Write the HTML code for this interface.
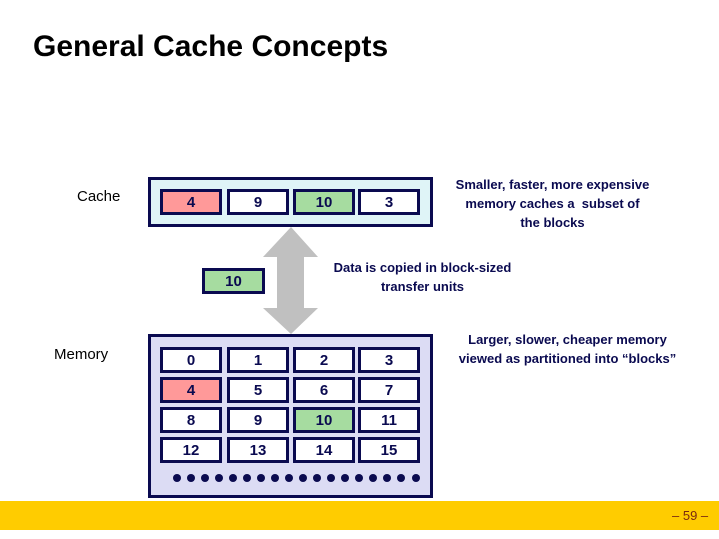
<!DOCTYPE html>
<html><head><meta charset="utf-8"><style>
body{margin:0;width:719px;height:539px;background:#fff;position:relative;overflow:hidden;font-family:"Liberation Sans",sans-serif}
.a{position:absolute}
.c{position:absolute;box-sizing:border-box;border:3px solid #0a0a50;background:#fff;color:#0a0a50;font-weight:bold;font-size:15px;display:flex;align-items:center;justify-content:center;width:62px;height:26px}
.r{background:#f99}.g{background:#a6dca0}
.t{position:absolute;color:#0a0a50;font-weight:bold;font-size:13px;text-align:center;line-height:19px}
</style></head><body>
<div class="a" style="left:33px;top:30px;font-size:30px;font-weight:bold;color:#000">General Cache Concepts</div>
<div class="a" style="left:77px;top:188px;font-size:15px;color:#000">Cache</div>
<div class="a" style="left:54px;top:346px;font-size:15px;color:#000">Memory</div>
<div class="a" style="left:148px;top:177px;width:285px;height:50px;box-sizing:border-box;border:3px solid #0a0a50;background:#dff4f7"></div>
<div class="c r" style="left:160px;top:189px">4</div>
<div class="c" style="left:227px;top:189px">9</div>
<div class="c g" style="left:293px;top:189px">10</div>
<div class="c" style="left:358px;top:189px">3</div>
<svg class="a" style="left:0;top:0" width="719" height="539"><polygon points="291,227 318,257 304,257 304,308 318,308 291,334 263,308 277,308 277,257 263,257" fill="#c0c0c0"/></svg>
<div class="c g" style="left:202px;top:268px;width:63px">10</div>
<div class="a" style="left:148px;top:334px;width:285px;height:164px;box-sizing:border-box;border:3px solid #0a0a50;background:#dcdcf4"></div>
<div class="c" style="left:160px;top:347px">0</div><div class="c" style="left:227px;top:347px">1</div><div class="c" style="left:293px;top:347px">2</div><div class="c" style="left:358px;top:347px">3</div>
<div class="c r" style="left:160px;top:377px">4</div><div class="c" style="left:227px;top:377px">5</div><div class="c" style="left:293px;top:377px">6</div><div class="c" style="left:358px;top:377px">7</div>
<div class="c" style="left:160px;top:407px">8</div><div class="c" style="left:227px;top:407px">9</div><div class="c g" style="left:293px;top:407px">10</div><div class="c" style="left:358px;top:407px">11</div>
<div class="c" style="left:160px;top:437px">12</div><div class="c" style="left:227px;top:437px">13</div><div class="c" style="left:293px;top:437px">14</div><div class="c" style="left:358px;top:437px">15</div>
<svg class="a" style="left:0;top:0" width="719" height="539">
<g fill="#0a0a50">
<circle cx="177" cy="478" r="4"/><circle cx="191" cy="478" r="4"/><circle cx="205" cy="478" r="4"/><circle cx="219" cy="478" r="4"/><circle cx="233" cy="478" r="4"/><circle cx="247" cy="478" r="4"/><circle cx="261" cy="478" r="4"/><circle cx="275" cy="478" r="4"/><circle cx="289" cy="478" r="4"/><circle cx="303" cy="478" r="4"/><circle cx="317" cy="478" r="4"/><circle cx="331" cy="478" r="4"/><circle cx="345" cy="478" r="4"/><circle cx="359" cy="478" r="4"/><circle cx="373" cy="478" r="4"/><circle cx="387" cy="478" r="4"/><circle cx="401" cy="478" r="4"/><circle cx="416" cy="478" r="4"/>
</g></svg>
<div class="t" style="left:440px;top:175px;width:225px">Smaller, faster, more expensive<br>memory caches a &nbsp;subset of<br>the blocks</div>
<div class="t" style="left:310px;top:258px;width:225px">Data is copied in block-sized<br>transfer units</div>
<div class="t" style="left:440px;top:330px;width:255px">Larger, slower, cheaper memory<br>viewed as partitioned into “blocks”</div>
<div class="a" style="left:0;top:501px;width:719px;height:29px;background:#ffcc00"></div>
<div class="a" style="left:672px;top:508px;font-size:13px;color:#7a2a10">– 59 –</div>
</body></html>
